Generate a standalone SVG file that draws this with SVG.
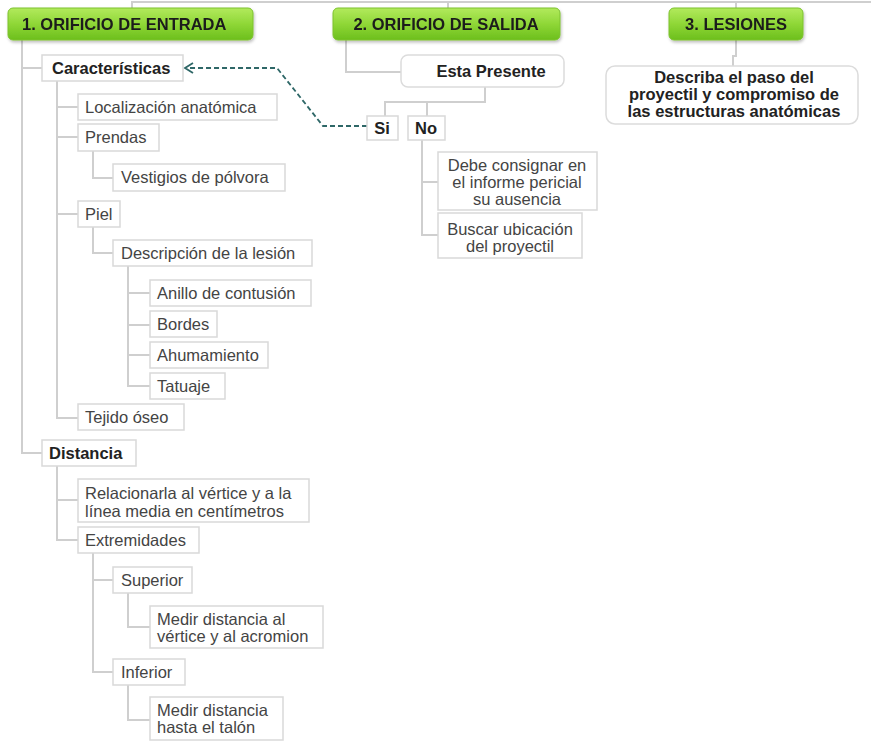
<svg xmlns="http://www.w3.org/2000/svg" width="871" height="749" viewBox="0 0 871 749">
<defs>
<linearGradient id="g" x1="0" y1="0" x2="0" y2="1">
<stop offset="0" stop-color="#b2ea5c"/>
<stop offset="0.5" stop-color="#8fd737"/>
<stop offset="1" stop-color="#6cbf1c"/>
</linearGradient>
<filter id="sh" x="-10%" y="-20%" width="120%" height="160%">
<feDropShadow dx="1" dy="2" stdDeviation="1.5" flood-color="#000" flood-opacity="0.25"/>
</filter>
<style>
.t{font-family:"Liberation Sans",Arial,sans-serif;font-size:16.5px;fill:#444}
.b{font-family:"Liberation Sans",Arial,sans-serif;font-size:16.5px;font-weight:bold;fill:#222}
.h{font-family:"Liberation Sans",Arial,sans-serif;font-size:16.5px;font-weight:bold;fill:#1c1c1c}
.n{fill:#fff;stroke:#d9d9d9;stroke-width:1.5}
.r{fill:#fff;stroke:#dcdcdc;stroke-width:1.5}
.ti{fill:url(#g);stroke:#7cc22e;stroke-width:1}
.c{fill:none;stroke:#cfcfcf;stroke-width:2}
.d{fill:none;stroke:#2e6767;stroke-width:1.8;stroke-dasharray:5 3}
.a{fill:none;stroke:#2e6767;stroke-width:1.8}
</style>
</defs>
<rect width="871" height="749" fill="#fff"/>

<g id="connectors">
<path class="c" d="M132 8 V2 H871 M448 2 V8 M736 2 V8"/>
<path class="c" d="M22 40 V453 H42 M22 68 H42"/>
<path class="c" d="M57 81 V418 H78 M57 107 H78 M57 137 H78 M57 214 H78"/>
<path class="c" d="M93 151 V178 H113"/>
<path class="c" d="M93 227 V253 H113"/>
<path class="c" d="M128 266 V386 H150 M128 293 H150 M128 325 H150 M128 355 H150"/>
<path class="c" d="M57 466 V540 H78 M57 500 H78"/>
<path class="c" d="M93 553 V672 H113 M93 580 H113"/>
<path class="c" d="M128 593 V627 H150"/>
<path class="c" d="M128 685 V720 H150"/>
<path class="c" d="M346 40 V72 H401"/>
<path class="c" d="M485 87 V102 H385 V116 M427 102 V116"/>
<path class="c" d="M422 140 V235 H438 M422 182 H438"/>
<path class="c" d="M736 40 V56 H733 V66"/>
<path class="d" d="M367 126 H323 L277 68 H187"/>
<path class="a" d="M193 63 L185 68 L193 73"/>
</g>

<g id="t1" filter="url(#sh)"><rect class="ti" x="8" y="8" width="245" height="32" rx="5"/><text class="h" x="22" y="30">1. ORIFICIO DE ENTRADA</text></g>
<g id="t2" filter="url(#sh)"><rect class="ti" x="333" y="8" width="227" height="32" rx="5"/><text class="h" x="446" y="30" text-anchor="middle">2. ORIFICIO DE SALIDA</text></g>
<g id="t3" filter="url(#sh)"><rect class="ti" x="669" y="8" width="134" height="32" rx="5"/><text class="h" x="736" y="30" text-anchor="middle">3. LESIONES</text></g>

<g id="caracteristicas"><rect class="n" x="42" y="55" width="141" height="26"/><text class="b" x="52" y="74">Características</text></g>
<g id="localizacion"><rect class="n" x="78" y="94" width="199" height="26"/><text class="t" x="85" y="113">Localización anatómica</text></g>
<g id="prendas"><rect class="n" x="78" y="124" width="81" height="27"/><text class="t" x="85" y="143">Prendas</text></g>
<g id="vestigios"><rect class="n" x="113" y="164" width="172" height="27"/><text class="t" x="121" y="183">Vestigios de pólvora</text></g>
<g id="piel"><rect class="n" x="78" y="201" width="42" height="26"/><text class="t" x="85" y="220">Piel</text></g>
<g id="descripcion"><rect class="n" x="113" y="240" width="199" height="26"/><text class="t" x="121" y="259">Descripción de la lesión</text></g>
<g id="anillo"><rect class="n" x="150" y="280" width="161" height="26"/><text class="t" x="157" y="299">Anillo de contusión</text></g>
<g id="bordes"><rect class="n" x="150" y="311" width="67" height="26"/><text class="t" x="157" y="330">Bordes</text></g>
<g id="ahumamiento"><rect class="n" x="150" y="342" width="118" height="26"/><text class="t" x="157" y="361">Ahumamiento</text></g>
<g id="tatuaje"><rect class="n" x="150" y="373" width="75" height="26"/><text class="t" x="157" y="392">Tatuaje</text></g>
<g id="tejido"><rect class="n" x="78" y="404" width="106" height="26"/><text class="t" x="85" y="423">Tejido óseo</text></g>
<g id="distancia"><rect class="n" x="42" y="440" width="94" height="26"/><text class="b" x="49" y="459">Distancia</text></g>
<g id="relacionarla"><rect class="n" x="78" y="479" width="231" height="43"/><text class="t" x="85" y="499">Relacionarla al vértice y a la</text><text class="t" x="85" y="517">línea media en centímetros</text></g>
<g id="extremidades"><rect class="n" x="78" y="527" width="121" height="26"/><text class="t" x="85" y="546">Extremidades</text></g>
<g id="superior"><rect class="n" x="113" y="567" width="79" height="26"/><text class="t" x="121" y="586">Superior</text></g>
<g id="acromion"><rect class="n" x="150" y="606" width="173" height="42"/><text class="t" x="157" y="625">Medir distancia al</text><text class="t" x="157" y="642">vértice y al acromion</text></g>
<g id="inferior"><rect class="n" x="113" y="659" width="72" height="26"/><text class="t" x="121" y="678">Inferior</text></g>
<g id="talon"><rect class="n" x="150" y="697" width="133" height="43"/><text class="t" x="157" y="716">Medir distancia</text><text class="t" x="157" y="733">hasta el talón</text></g>

<g id="presente"><rect class="r" x="401" y="55" width="163" height="32" rx="7"/><text class="b" x="491" y="77" text-anchor="middle">Esta Presente</text></g>
<g id="si"><rect class="n" x="367" y="116" width="31" height="24"/><text class="b" x="382" y="134" text-anchor="middle">Si</text></g>
<g id="no"><rect class="n" x="408" y="116" width="37" height="24"/><text class="b" x="426" y="134" text-anchor="middle">No</text></g>
<g id="debe"><rect class="n" x="438" y="152" width="159" height="58"/><text class="t" x="517" y="171" text-anchor="middle">Debe consignar en</text><text class="t" x="517" y="188" text-anchor="middle">el informe pericial</text><text class="t" x="517" y="205" text-anchor="middle">su ausencia</text></g>
<g id="buscar"><rect class="n" x="438" y="213" width="144" height="45"/><text class="t" x="510" y="235" text-anchor="middle">Buscar ubicación</text><text class="t" x="510" y="252" text-anchor="middle">del proyectil</text></g>

<g id="describa"><rect class="r" x="606" y="66" width="252" height="58" rx="9"/><text class="b" x="734" y="83" text-anchor="middle">Describa el paso del</text><text class="b" x="734" y="100" text-anchor="middle">proyectil y compromiso de</text><text class="b" x="734" y="117" text-anchor="middle">las estructuras anatómicas</text></g>
</svg>
